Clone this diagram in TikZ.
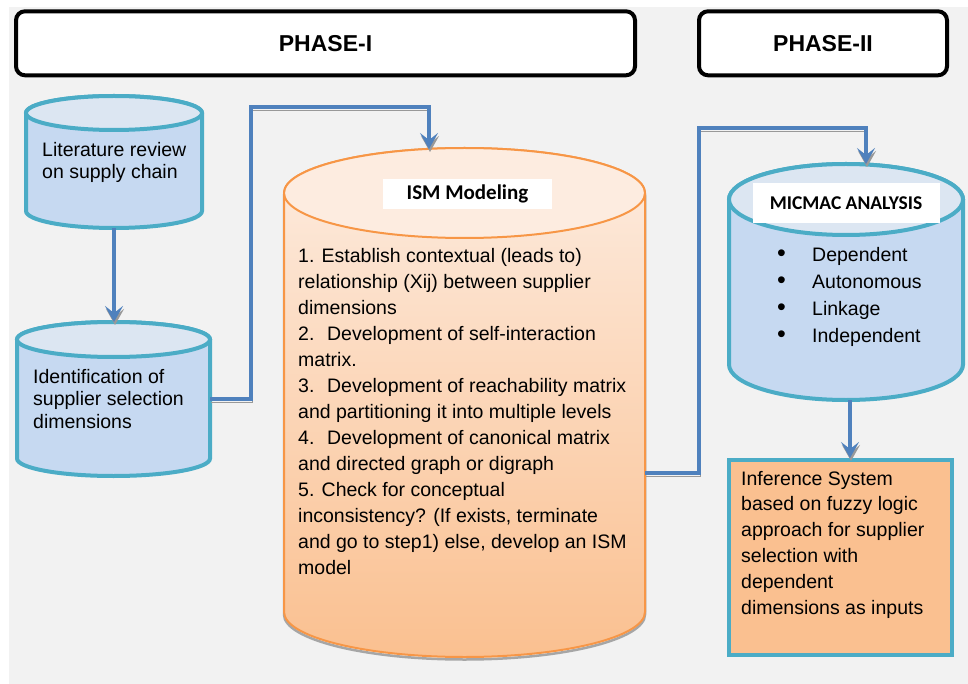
\documentclass[tikz,border=0pt]{standalone}
\usepackage{fontspec}
\setmainfont{Liberation Sans}
\newfontfamily\calibri{Carlito}
\usetikzlibrary{arrows.meta,calc}
\definecolor{bggray}{RGB}{242,242,242}
\definecolor{linkblue}{RGB}{79,129,189}
\definecolor{drumedge}{RGB}{75,172,198}
\definecolor{drumbody}{RGB}{198,217,241}
\definecolor{drumtop}{RGB}{220,230,242}
\definecolor{ismedge}{RGB}{247,150,70}
\definecolor{ismlight}{RGB}{253,236,224}
\definecolor{ismdark}{RGB}{250,192,144}
\definecolor{inferfill}{RGB}{250,192,144}

% drum (cylinder) drawn over a named slot node: name, y radius, body style, top style
\newcommand{\drum}[4]{%
  \path[#3] let \p1=(#1.north west), \p2=(#1.south east), \n1={(\x2-\x1)/2} in
    (\x1,\y1-#2) -- (\x1,\y2+#2)
    arc[start angle=180, end angle=360, x radius=\n1, y radius=#2]
    -- (\x2,\y1-#2)
    arc[start angle=0, end angle=180, x radius=\n1, y radius=#2] -- cycle;
  \path[#4] let \p1=(#1.north west), \p2=(#1.south east), \n1={(\x2-\x1)/2} in
    ({(\x1+\x2)/2},\y1-#2) ellipse[x radius=\n1, y radius=#2];
}
\newcommand{\blt}{\makebox[35pt][l]{\fontsize{25}{0}\selectfont\textbullet}}

\tikzset{
  phasebox/.style={draw, line width=4pt, rounded corners=9pt, fill=white,
    font=\fontsize{23}{27}\selectfont\bfseries},
  slot/.style={inner sep=0pt, outer sep=0pt},
  drumblue/.style={draw=drumedge, line width=4pt, fill=drumbody},
  drumbluetop/.style={draw=drumedge, line width=4pt, fill=drumtop},
  drumism/.style={draw=ismedge, line width=2pt, top color=ismlight, bottom color=ismdark,
    preaction={draw=black!35, line width=2.5pt, transform canvas={yshift=-2.5pt}}},
  drumismtop/.style={draw=ismedge, line width=2pt, fill=ismlight},
  bodytext/.style={align=left, anchor=west, inner sep=0pt},
  titlebox/.style={fill=white, inner sep=0pt},
  link/.style={draw=linkblue, line width=4pt, -{Stealth[length=16pt,width=18pt,inset=7pt]},
    preaction={draw=black!40, transform canvas={shift={(1pt,-3pt)}}}},
}

\begin{document}
\begin{tikzpicture}[x=1pt, y=1pt]
\useasboundingbox (0,0) rectangle (968,-684);
\fill[bggray] (9,-7) rectangle (968,-684);

% phase headers
\node[phasebox, minimum width=619pt, minimum height=64pt] (ph1) at (325.5,-43.3) {PHASE-I};
\node[phasebox, minimum width=248pt, minimum height=64pt] (ph2) at (823,-43.3) {PHASE-II};

% slots for the drums
\node[slot, minimum width=176pt, minimum height=132pt] (lit) at (114,-162) {};
\node[slot, minimum width=193pt, minimum height=154pt] (ident) at (113.5,-399) {};
\node[slot, minimum width=361pt, minimum height=509pt] (ism) at (464.5,-402.5) {};
\node[slot, minimum width=234pt, minimum height=236pt] (micmac) at (846,-282) {};

\drum{lit}{17pt}{drumblue}{drumbluetop}
\drum{ident}{17.5pt}{drumblue}{drumbluetop}
\drum{ism}{45pt}{drumism}{drumismtop}
\drum{micmac}{35.5pt}{drumblue}{drumbluetop}

\node[draw=drumedge, line width=4pt, fill=inferfill, minimum width=223pt, minimum height=195pt,
  inner sep=0pt] (infer) at (840.5,-557.5) {};

% texts
\node[bodytext, font=\fontsize{19.5}{22}\selectfont] (littext) at ([xshift=16pt]lit.west)
  {Literature review\\on supply chain};
\node[bodytext, font=\fontsize{19.5}{22.5}\selectfont] (identtext) at ([xshift=16pt]ident.west)
  {Identification of\\supplier selection\\dimensions};
\node[titlebox, minimum width=169pt, minimum height=30pt,
  font=\calibri\bfseries\fontsize{21}{25}\selectfont] (ismtitle) at ([xshift=3pt,yshift=-46pt]ism.north)
  {ISM Modeling};
\node[bodytext, font=\fontsize{19.5}{26}\selectfont] (ismtext) at ([xshift=14pt,yshift=-9.5pt]ism.west)
  {1. Establish contextual (leads to)\\
   relationship (Xij) between supplier\\
   dimensions\\
   2.~ Development of self-interaction\\
   matrix.\\
   3.~ Development of reachability matrix\\
   and partitioning it into multiple levels\\
   4.~ Development of canonical matrix\\
   and directed graph or digraph\\
   5. Check for conceptual\\
   inconsistency? (If exists, terminate\\
   and go to step1) else, develop an ISM\\
   model};
\node[titlebox, minimum width=187pt, minimum height=40pt,
  font=\calibri\bfseries\fontsize{19.5}{23}\selectfont] (mictitle) at ([yshift=-39pt]micmac.north)
  {MICMAC ANALYSIS};
\node[bodytext, font=\fontsize{19.5}{27.3}\selectfont] (miclist) at ([xshift=48pt,yshift=-15pt]micmac.west)
  {\blt Dependent\\
   \blt Autonomous\\
   \blt Linkage\\
   \blt Independent};
\node[bodytext, font=\fontsize{19.5}{25.8}\selectfont] (infertext) at ([xshift=14pt,yshift=13pt]infer.west)
  {Inference System\\based on fuzzy logic\\approach for supplier\\selection with\\dependent\\dimensions as inputs};

% connectors
\draw[link] (lit.south) -- (lit.south |- ident.north);
\draw[link] (ident.east) -- ++(41pt,0) |- ([xshift=-35.5pt,yshift=41pt]ism.north)
  -- ([xshift=-35.5pt,yshift=-1pt]ism.north);
\draw[link] ([yshift=-70.5pt]ism.east) -- ++(54pt,0) |- ([xshift=20pt,yshift=36pt]micmac.north)
  -- ([xshift=20pt]micmac.north);
\draw[link] ([xshift=4pt]micmac.south) -- ([xshift=4pt]micmac.south |- infer.north);
\end{tikzpicture}
\end{document}
